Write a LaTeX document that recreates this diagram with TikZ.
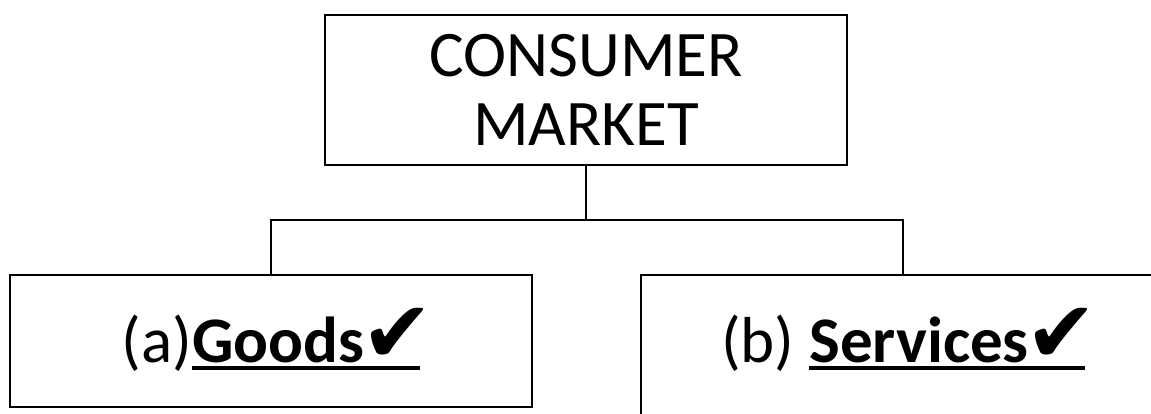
\documentclass[tikz,border=0pt]{standalone}
\usepackage{fontspec}
\setmainfont{Carlito}
\newfontfamily\dejavu{DejaVu Sans}
\newcommand\myul[1]{\setbox0\hbox{#1}\rlap{\rule[-8pt]{\wd0}{4pt}}\box0}
\newcommand\chk{{\dejavu\fontsize{86}{86}\selectfont\kern-3pt ✔\kern-13pt}}
\begin{document}
\begin{tikzpicture}[x=1pt,y=-1pt,
  box/.style={draw=black,line width=2.6pt,rectangle,inner sep=0pt},
  conn/.style={draw=black,line width=2pt},
  big/.style={font=\fontsize{65}{69}\selectfont}]
\useasboundingbox (0,0) rectangle (1151,414);
\clip (0,0) rectangle (1151,414);
\node[box,big,align=center,minimum width=522pt,minimum height=150pt] (top) at (586,90) {CONSUMER\\MARKET};
\node[box,big,minimum width=522pt,minimum height=132pt,text height=50pt,text depth=8pt] (left) at (271,341) {(a)\myul{\textbf{Goods}\chk}};
\node[box,big,minimum width=524pt,minimum height=160pt,text height=22pt,text depth=8pt] (right) at (903,355) {(b) \myul{\textbf{Services}\chk}};
\coordinate (j) at (586,220);
\draw[conn] (top.south) -- (j);
\draw[conn] (left.north) |- (j) -| (right.north);
\end{tikzpicture}
\end{document}
